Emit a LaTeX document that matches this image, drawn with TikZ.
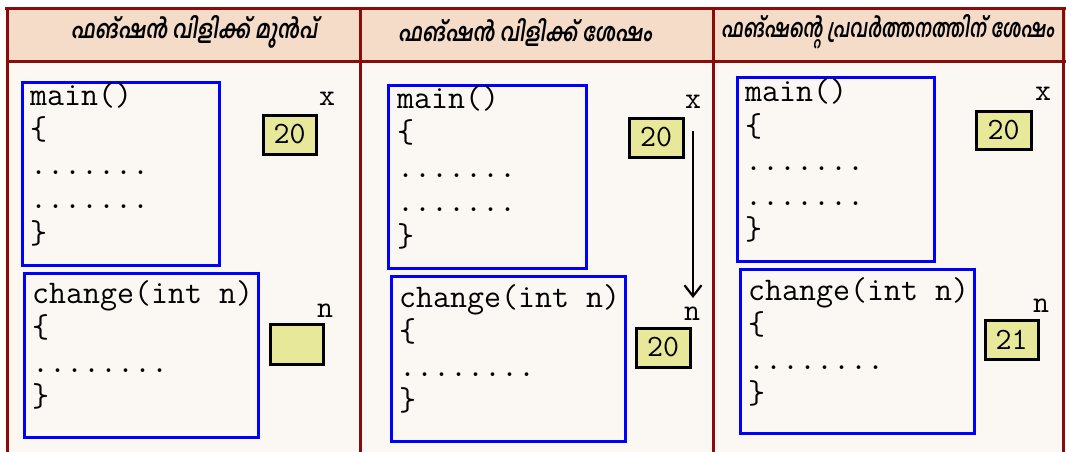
\documentclass[tikz,border=0pt]{standalone}
\usepackage{fontspec}
\newfontfamily\mlfont[Script=Malayalam,FakeSlant=0.2]{Hind Kochi}
\usetikzlibrary{arrows.meta}

\definecolor{frameRed}{HTML}{8B0A0A}
\definecolor{headFill}{HTML}{F4DCC8}
\definecolor{bodyFill}{HTML}{FBF7F3}
\definecolor{cellFill}{HTML}{E8E89A}

\tikzset{
  grid line/.style={draw=frameRed, line width=3pt},
  scopebox/.style={draw=blue, line width=3pt},
  code/.style={font=\ttfamily\fontsize{33}{33}\selectfont, anchor=base west, inner sep=0pt},
  cell/.style={draw=black, line width=3pt, fill=cellFill, inner sep=0pt,
    font=\ttfamily\fontsize{31}{31}\selectfont},
  varname/.style={font=\ttfamily\fontsize{31}{31}\selectfont, anchor=base, inner sep=0pt},
  heading/.style={font=\mlfont\bfseries\fontsize{22}{22}\selectfont, inner sep=0pt, xscale=0.89, yscale=1.15},
  pass/.style={draw=black, line width=2.2pt, -{Straight Barb[length=11pt,width=17pt]}}
}

\begin{document}
\begin{tikzpicture}[x=1pt, y=-1pt]
\useasboundingbox (0,0) rectangle (1066,452);
\fill[white] (0,0) rectangle (1066,452);

% table background
\fill[headFill] (7,9) rectangle (1066,62);
\fill[bodyFill] (7,62) rectangle (1063,452);

% table rules
\draw[grid line] (5,9) -- (1066,9);
\draw[grid line] (7,62) -- (1066,62);
\draw[grid line] (7,8) -- (7,452);
\draw[grid line] (360,8) -- (360,452);
\draw[grid line] (713,8) -- (713,452);
\draw[grid line] (1063,8) -- (1063,452);

% column headings
\node[heading] (h1) at (194,32) {ഫങ്ഷൻ വിളിക്ക് മുൻപ്};
\node[heading] (h2) at (525,32) {ഫങ്ഷൻ വിളിക്ക് ശേഷം};
\node[heading, anchor=west, xscale=0.91] (h3) at (721,32) {ഫങ്ഷന്റെ പ്രവർത്തനത്തിന് ശേഷം};

% ---------- column 1 ----------
\draw[scopebox] (22,83) rectangle (219,265);
\node[code] (m1a) at (30,105)   {main()};
\node[code] (m1b) at (30,139.5) {\{};
\node[code] (m1c) at (30,174)   {.......};
\node[code] (m1d) at (30,208.5) {.......};
\node[code] (m1e) at (30,243)   {\}};
\node[varname] (x1) at (327,105) {x};
\node[cell, minimum width=53pt, minimum height=39pt] (v1) at (289.5,134.5) {20};

\draw[scopebox] (24,273) rectangle (258,437);
\node[code] (c1a) at (32,303)   {change(int n)};
\node[code] (c1b) at (32,337.5) {\{};
\node[code] (c1c) at (32,372)   {........};
\node[code] (c1d) at (32,406.5) {\}};
\node[varname] (n1) at (325,317) {n};
\node[cell, minimum width=53pt, minimum height=40pt] (w1) at (296.5,344) {};

% ---------- column 2 ----------
\draw[scopebox] (388,86) rectangle (586,268);
\node[code] (m2a) at (397,108)   {main()};
\node[code] (m2b) at (397,142.5) {\{};
\node[code] (m2c) at (397,177)   {.......};
\node[code] (m2d) at (397,211.5) {.......};
\node[code] (m2e) at (397,246)   {\}};
\node[varname] (x2) at (693,108) {x};
\node[cell, minimum width=54pt, minimum height=39pt] (v2) at (656,137.5) {20};

\draw[scopebox] (391,276) rectangle (625,441);
\node[code] (c2a) at (399,307)   {change(int n)};
\node[code] (c2b) at (399,341.5) {\{};
\node[code] (c2c) at (399,376)   {........};
\node[code] (c2d) at (399,410.5) {\}};
\node[varname] (n2) at (692,320) {n};
\node[cell, minimum width=54pt, minimum height=39pt] (w2) at (663,347.5) {20};

\coordinate (p2a) at (693,131);
\coordinate (p2b) at (693,298);
\draw[pass] (p2a) -- (p2b);

% ---------- column 3 ----------
\draw[scopebox] (737,78) rectangle (934,261);
\node[code] (m3a) at (745,102)   {main()};
\node[code] (m3b) at (745,136.5) {\{};
\node[code] (m3c) at (745,170.5) {.......};
\node[code] (m3d) at (745,205)   {.......};
\node[code] (m3e) at (745,239.5) {\}};
\node[varname] (x3) at (1043,100) {x};
\node[cell, minimum width=55pt, minimum height=38pt] (v3) at (1003.5,130) {20};

\draw[scopebox] (740,269) rectangle (974,433);
\node[code] (c3a) at (748,300)   {change(int n)};
\node[code] (c3b) at (748,334.5) {\{};
\node[code] (c3c) at (748,369)   {........};
\node[code] (c3d) at (748,403.5) {\}};
\node[varname] (n3) at (1041,312) {n};
\node[cell, minimum width=53pt, minimum height=39pt] (w3) at (1011.5,339.5) {21};
\end{tikzpicture}
\end{document}
